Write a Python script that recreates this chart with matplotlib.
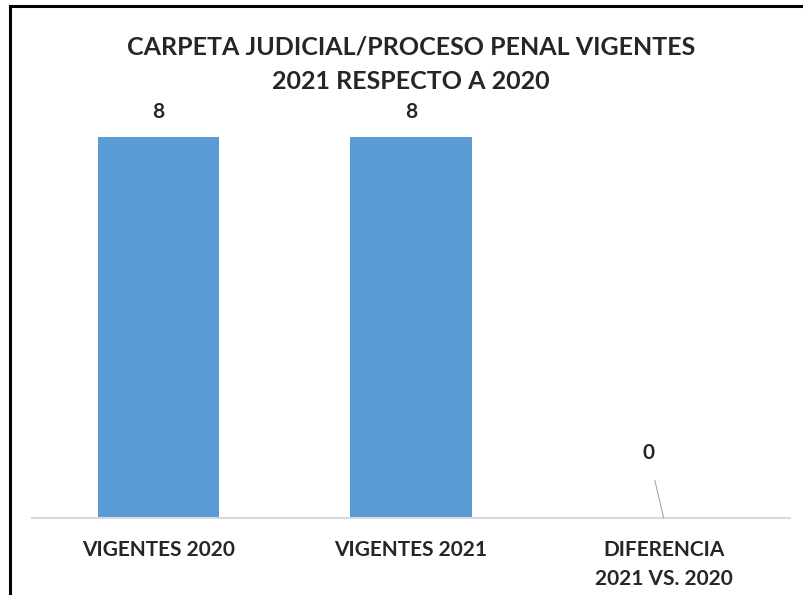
import matplotlib.pyplot as plt
from matplotlib.lines import Line2D

categories = ["VIGENTES 2020", "VIGENTES 2021", "DIFERENCIA\n2021 VS. 2020"]
values = [8, 8, 0]
title = "CARPETA JUDICIAL/PROCESO PENAL VIGENTES\n2021 RESPECTO A 2020"

plt.rcParams["font.family"] = ["Lato", "DejaVu Sans"]

W, H = 804, 595
fig = plt.figure(figsize=(W / 100, H / 100), dpi=100)

# plot area in pixel terms
x0, x1 = 32, 790
y_base, y_top = 518, 100
ax = fig.add_axes([x0 / W, 1 - y_base / H, (x1 - x0) / W, (y_base - y_top) / H])

ymax = 8 * (y_base - y_top) / (y_base - 137)
pos = list(range(len(categories)))
ax.bar(pos, values, width=0.48, color="#5B9BD5", zorder=2)
ax.set_xlim(-0.5, len(categories) - 0.5)
ax.set_ylim(0, ymax)

for s in ["top", "right", "left"]:
    ax.spines[s].set_visible(False)
ax.spines["bottom"].set_color("#D9D9D9")
ax.spines["bottom"].set_linewidth(1.5)
ax.set_yticks([])
ax.set_xticks(pos)
ax.set_xticklabels(categories, fontsize=15, fontweight="bold", color="#262626",
                   linespacing=1.55)
ax.tick_params(axis="x", length=0, pad=16)

# data labels
for i, v in enumerate(values):
    if v > 0:
        ax.annotate(str(v), (i, v), xytext=(0, 18), textcoords="offset points",
                    ha="center", va="center", fontsize=15, fontweight="bold",
                    color="#262626")
    else:
        ax.annotate(str(v), (i, v), xytext=(-11, 47), textcoords="offset points",
                    ha="center", va="center", fontsize=15, fontweight="bold",
                    color="#262626",
                    arrowprops=dict(arrowstyle="-", color="#A6A6A6", lw=0.8,
                                    shrinkA=11, shrinkB=0))

fig.text(411 / W, 1 - 64 / H, title, ha="center", va="center", fontsize=18,
         fontweight="bold", color="#262626", linespacing=1.6)

# chart border (left and top edges visible)
fig.add_artist(Line2D([10 / W, 10 / W], [0, 1 - 6 / H], color="black", lw=2.2,
                      transform=fig.transFigure))
fig.add_artist(Line2D([10 / W, 1], [1 - 6 / H, 1 - 6 / H], color="black", lw=2.2,
                      transform=fig.transFigure))

fig.savefig("out.png", dpi=100)
